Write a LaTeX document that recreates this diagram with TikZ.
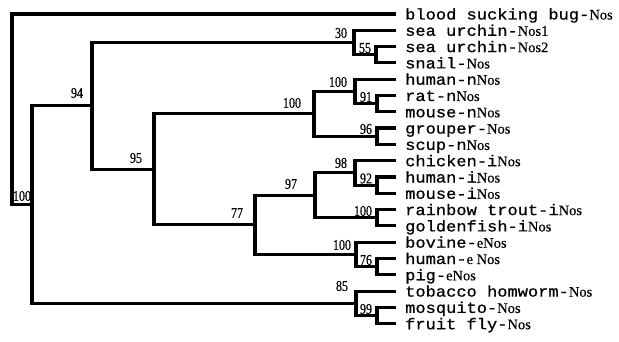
\documentclass[tikz,border=0pt]{standalone}
\usepackage{fontspec}
\setmainfont{Liberation Serif}
\newfontfamily\leafmono[FakeStretch=1.1,FakeBold=0.8]{Liberation Mono}
\newfontfamily\serifsm[FakeBold=0.4]{Liberation Serif}
\newfontfamily\numfont[FakeStretch=0.8,FakeBold=0.4]{Liberation Serif}
\newcommand\snos[1]{{\serifsm\fontsize{14.5}{14.5}\selectfont #1}}
\begin{document}
\begin{tikzpicture}[x=1pt,y=-1pt,
  br/.style={line width=3.2pt, line join=miter},
  leaf/.style={anchor=base west, inner sep=0pt, font=\leafmono\fontsize{15.5}{15.5}\selectfont},
  bs/.style={inner sep=0pt, font=\numfont\fontsize{15}{15}\selectfont}]
\useasboundingbox (0,0) rectangle (619,342);
% leaf ends
\foreach \i/\y in {1/14,2/30.3,3/46.6,4/62.9,5/79.2,6/95.5,7/111.8,8/128.1,9/144.4,10/160.7,11/177.0,12/193.3,13/209.6,14/225.9,15/242.2,16/258.5,17/274.8,18/291.1,19/307.4,20/323.7}
  {\coordinate (l\i) at (396,\y);}
% leaf labels
\node[leaf] (t1) at (405,19.5) {blood sucking bug-\snos{Nos}};
\node[leaf] (t2) at (405,35.8) {sea urchin-\snos{Nos1}};
\node[leaf] (t3) at (405,52.1) {sea urchin-\snos{Nos2}};
\node[leaf] (t4) at (405,68.4) {snail-\snos{Nos}};
\node[leaf] (t5) at (405,84.7) {human-n\snos{Nos}};
\node[leaf] (t6) at (405,101.0) {rat-n\snos{Nos}};
\node[leaf] (t7) at (405,117.3) {mouse-n\snos{Nos}};
\node[leaf] (t8) at (405,133.6) {grouper-\snos{Nos}};
\node[leaf] (t9) at (405,149.9) {scup-n\snos{Nos}};
\node[leaf] (t10) at (405,166.2) {chicken-i\snos{Nos}};
\node[leaf] (t11) at (405,182.5) {human-i\snos{Nos}};
\node[leaf] (t12) at (405,198.8) {mouse-i\snos{Nos}};
\node[leaf] (t13) at (405,215.1) {rainbow trout-i\snos{Nos}};
\node[leaf] (t14) at (405,231.4) {goldenfish-i\snos{Nos}};
\node[leaf] (t15) at (405,247.7) {bovine-\snos{eNos}};
\node[leaf] (t16) at (405,264.0) {human-\snos{e Nos}};
\node[leaf] (t17) at (405,280.3) {pig-\snos{eNos}};
\node[leaf] (t18) at (405,296.6) {tobacco homworm-\snos{Nos}};
\node[leaf] (t19) at (405,312.9) {mosquito-\snos{Nos}};
\node[leaf] (t20) at (405,329.2) {fruit fly-\snos{Nos}};
% internal nodes
\coordinate (n55) at (376,54.75);
\coordinate (n30) at (354,42.5);
\coordinate (n91) at (377,103.65);
\coordinate (nA) at (355,91.4);
\coordinate (n96) at (377,136.25);
\coordinate (nB) at (314,113.8);
\coordinate (n92) at (377,185.15);
\coordinate (n98) at (355,172.9);
\coordinate (nC) at (377,217.75);
\coordinate (n97) at (315,195.3);
\coordinate (n76) at (377,266.65);
\coordinate (nD) at (356,254.4);
\coordinate (n77) at (255,224.9);
\coordinate (n95) at (154,169.35);
\coordinate (n94) at (92,105.9);
\coordinate (n99) at (377,315.55);
\coordinate (n85) at (356,303.3);
\coordinate (nE) at (32,204.6);
\coordinate (root) at (12,109.3);
% branches
\draw[br] (l3) -| (n55) |- (l4);
\draw[br] (l2) -| (n30) |- (n55);
\draw[br] (l6) -| (n91) |- (l7);
\draw[br] (l5) -| (nA) |- (n91);
\draw[br] (l8) -| (n96) |- (l9);
\draw[br] (nA) -| (nB) |- (n96);
\draw[br] (l11) -| (n92) |- (l12);
\draw[br] (l10) -| (n98) |- (n92);
\draw[br] (l13) -| (nC) |- (l14);
\draw[br] (n98) -| (n97) |- (nC);
\draw[br] (l16) -| (n76) |- (l17);
\draw[br] (l15) -| (nD) |- (n76);
\draw[br] (n97) -| (n77) |- (nD);
\draw[br] (nB) -| (n95) |- (n77);
\draw[br] (n30) -| (n94) |- (n95);
\draw[br] (l19) -| (n99) |- (l20);
\draw[br] (l18) -| (n85) |- (n99);
\draw[br] (n94) -| (nE) |- (n85);
\draw[br] (l1) -| (root) |- (nE);
% bootstrap values
\node[bs] (bE) at (22,196) {100};
\node[bs] (b94) at (77,93) {94};
\node[bs] (b95) at (136,158) {95};
\node[bs] (bB) at (292,103) {100};
\node[bs] (b77) at (237,213) {77};
\node[bs] (b97) at (291,184) {97};
\node[bs] (b30) at (341,33) {30};
\node[bs] (b55) at (365,48) {55};
\node[bs] (bA) at (338,82) {100};
\node[bs] (b91) at (366,97) {91};
\node[bs] (b96) at (366,129) {96};
\node[bs] (b98) at (341,163) {98};
\node[bs] (b92) at (366,178.5) {92};
\node[bs] (bC) at (363,211) {100};
\node[bs] (bD) at (342,245) {100};
\node[bs] (b76) at (366,260) {76};
\node[bs] (b85) at (342,286) {85};
\node[bs] (b99) at (366,309) {99};
\end{tikzpicture}
\end{document}
